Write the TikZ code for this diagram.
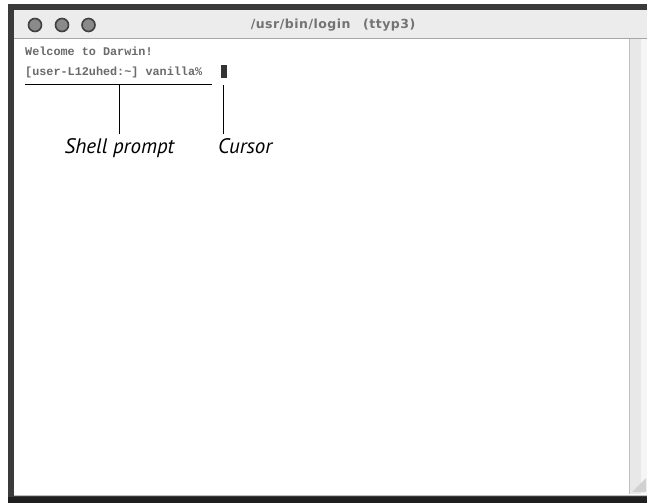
\documentclass[tikz,border=0pt]{standalone}
\usepackage{fontspec}
\setmainfont{Liberation Sans}
\newfontfamily\calloutfont{PT Sans}
\newfontfamily\termfont{Liberation Mono}
\newfontfamily\titlefont[LetterSpace=4]{DejaVu Sans}
\usetikzlibrary{positioning}
\definecolor{winframe}{HTML}{3A3A3A}
\definecolor{winbar}{HTML}{ECECEC}
\definecolor{wintext}{HTML}{6A6A6A}
\definecolor{winbtn}{HTML}{8A8A8A}

\begin{document}
\begin{tikzpicture}[x=1pt,y=-1pt,
  btn/.style={circle,draw=black!75,fill=winbtn,line width=1.6pt,
              minimum size=13pt,inner sep=0pt},
  term/.style={font=\termfont\bfseries\fontsize{11.8}{13}\selectfont,text=wintext,
               inner sep=0pt,anchor=base west},
  callout/.style={font=\calloutfont\itshape\fontsize{21}{24}\selectfont,
                  inner xsep=0pt,inner ysep=4pt,anchor=base},
  lead/.style={line width=0.9pt,black}
]
  \useasboundingbox (0,0) rectangle (647,503);

  % ---- Window frame -------------------------------------------
  \fill[winframe] (8,4) rectangle (647,503);
  \fill[black!88] (8,497) rectangle (647,503);
  \fill[winbar] (14,10) rectangle (647,38);
  \fill[white] (14,38) rectangle (647,495);
  \draw[black!35,line width=0.8pt] (14,38) -- (647,38);
  \draw[black!25,line width=0.8pt] (14,495) -- (647,495);

  % scroll bar and grow box
  \fill[black!9] (629,39) rectangle (641,494);
  \fill[black!4] (641,39) rectangle (647,494);
  \draw[black!25,line width=0.6pt] (629,39) -- (629,494);
  \fill[black!18] (632,492) -- (646,478) -- (646,492) -- cycle;

  % ---- Title bar ----------------------------------------------
  \node[btn] (close) at (35,25) {};
  \node[btn] (mini) at (62,25) {};
  \node[btn] (zoom) at (88.5,25) {};
  \node[font=\titlefont\bfseries\fontsize{12.5}{14}\selectfont,text=black!55]
    (title) at (333,25.5) {/usr/bin/login\quad(ttyp3)};

  % ---- Terminal lines -----------------------------------------
  \node[term] (welcome) at (25,56) {Welcome to Darwin!};
  \node[term] (prompt) at (25,75) {[user-L12uhed:\textasciitilde] vanilla\%};
  \node[fill=black!80,minimum width=6pt,minimum height=13pt,inner sep=0pt]
    (cursor) at (223.5,71.5) {};

  % ---- Callouts -----------------------------------------------
  \coordinate (ul-l) at (25,84);
  \coordinate (ul-r) at (212,84);
  \coordinate (ul-m) at (119.5,84);
  \node[callout] (shell) at (119.5,153) {Shell prompt};
  \node[callout,anchor=base west] (cursorlbl) at (218,153) {Cursor};

  \draw[lead] (ul-l) -- (ul-r);
  \draw[lead] (ul-m) -- (ul-m |- shell.north);
  \draw[lead,shorten <=7pt] (cursor.south) -- (cursor.south |- cursorlbl.north);

\end{tikzpicture}
\end{document}
